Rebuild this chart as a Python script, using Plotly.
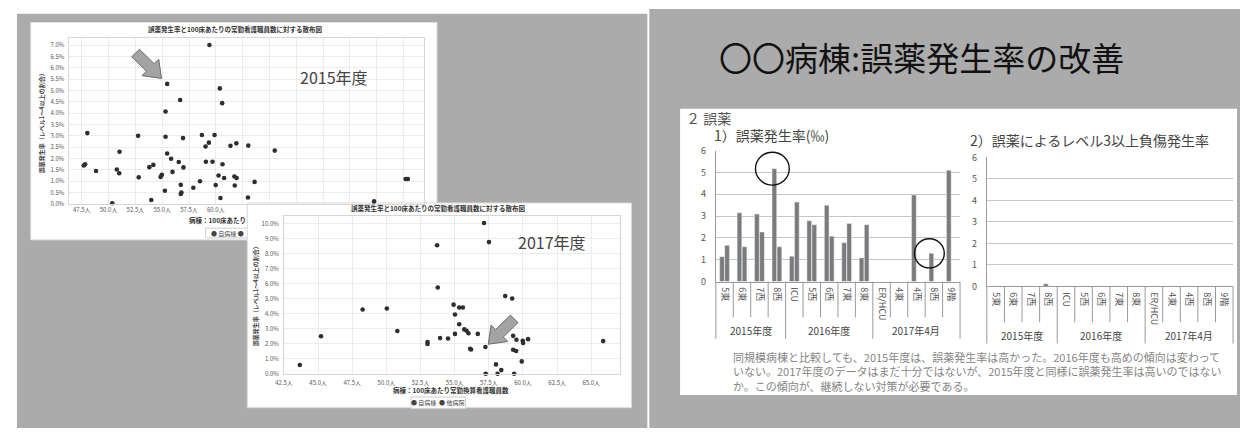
import math
import plotly.graph_objects as go

W, H = 1241, 434
JP = "Noto Sans CJK JP"

# ---------------- scatter data: staff per 100 beds (persons) vs. error rate (%) ----------------
staff_2015 = [59.40, 55.46, 60.37, 56.67, 60.59, 55.31, 48.02, 52.75, 55.31, 56.94,
              58.70, 59.88, 59.35, 59.04, 61.36, 61.91, 63.02, 65.49, 51.02, 55.46,
              55.83, 56.54, 59.07, 59.69, 60.62, 47.81, 47.69, 48.83, 50.77, 50.99,
              53.80, 54.17, 56.98, 55.96, 54.97, 54.85, 52.81, 60.25, 60.77, 61.73,
              61.94, 58.52, 63.61, 56.73, 59.99, 61.76, 57.90, 55.25, 56.79, 56.73,
              60.43, 62.99, 53.98, 50.34, 77.69, 77.90, 74.75]
error_2015 = [7.00, 5.29, 5.09, 4.58, 4.44, 4.07, 3.12, 3.00, 2.96, 2.90,
              3.04, 3.04, 2.70, 2.53, 2.56, 2.67, 2.57, 2.35, 2.30, 2.22,
              1.99, 1.85, 1.86, 1.86, 1.75, 1.75, 1.69, 1.45, 1.52, 1.35,
              1.62, 1.72, 1.61, 1.41, 1.28, 1.19, 1.17, 1.25, 1.14, 1.21,
              1.14, 1.00, 0.97, 0.84, 0.83, 0.81, 0.71, 0.58, 0.50, 0.44,
              0.26, 0.28, 0.17, 0.03, 1.10, 1.10, 0.11]

staff_2017 = [57.15, 57.51, 53.71, 53.76, 58.70, 59.21, 48.26, 50.03, 54.92, 55.33,
              55.60, 55.02, 55.33, 55.70, 55.87, 56.01, 56.69, 55.02, 50.80, 45.21,
              53.93, 54.51, 53.01, 53.01, 57.25, 56.13, 56.20, 59.28, 59.52, 59.98,
              60.01, 60.37, 65.87, 59.28, 59.50, 59.91, 58.02, 58.41, 58.14, 57.27,
              59.35, 43.66]
error_2017 = [10.04, 8.77, 8.56, 5.74, 5.18, 5.01, 4.28, 4.34, 4.60, 4.41,
              4.41, 3.94, 3.29, 2.95, 2.86, 2.69, 2.65, 2.65, 2.84, 2.49,
              2.37, 2.34, 2.11, 1.98, 1.78, 1.66, 1.61, 2.52, 2.26, 2.19,
              2.04, 2.30, 2.17, 1.59, 1.51, 0.82, 0.62, 0.24, 0.00, 0.00,
              0.00, 0.58]

own_2015 = 1   # index of the highlighted ward in each year
own_2017 = 24

ticks_2015 = [47.5, 50.0, 52.5, 55.0, 57.5, 60.0]
ticks_2017 = [42.5, 45.0, 47.5, 50.0, 52.5, 55.0, 57.5, 60.0, 62.5, 65.0]
pct_2015 = [i * 0.5 for i in range(15)]
pct_2017 = list(range(11))

# ---------------- bar data: medication error rate by ward (‰) ----------------
periods = ["2015年度", "2016年度", "2017年4月"]
period_sizes = [4, 5, 5]
wards = ["5東", "6東", "7西", "8西",
         "ICU", "5西", "6西", "7東", "8東",
         "ER/HCU", "4東", "4西", "8西", "9階"]
rate_first = [1.14, 3.15, 3.09, 5.17, 1.16, 2.78, 3.49, 1.78, 1.08,
              None, None, 3.97, 1.29, 5.10]
rate_second = [1.66, 1.59, 2.27, 1.59, 3.64, 2.60, 2.08, 2.66, 2.60,
               None, None, None, None, None]
injury_first = [None, None, None, 0.12, None, None, None, None, None,
                None, None, None, None, None]
injury_second = [None] * 14
circled = [3, 12]   # bars of rate_first ringed in the chart

GREY_BG = "#ababab"
BAR = "#7b7b7b"

# pixel frames of the four plotting areas: (left, top, right, bottom)
F1 = (60, 32, 418, 203)
F2 = (277, 215, 615, 378)
F3 = (712, 148, 958, 283)
F4 = (985, 155, 1233, 288)
R1 = ([46.27, 79.4], [0, 7.31])
R2 = ([42.5, 67.07], [0, 10.54])
BAR_GAP, GROUP_GAP = 0.42, 0.08


def dom_x(f):
    return [f[0] / W, f[2] / W]


def dom_y(f):
    return [1 - f[3] / H, 1 - f[1] / H]


def to_px(frame, rng, x, y):
    (xa, xb), (ya, yb) = rng
    px = frame[0] + (x - xa) / (xb - xa) * (frame[2] - frame[0])
    py = frame[3] - (y - ya) / (yb - ya) * (frame[3] - frame[1])
    return px, py


def rect(x0, y0, x1, y1, fill, line=None, lw=0, layer="below"):
    return dict(type="rect", xref="paper", yref="paper",
                x0=x0 / W, x1=x1 / W, y0=1 - y1 / H, y1=1 - y0 / H,
                fillcolor=fill, line=dict(color=line or fill, width=lw),
                layer=layer)


def vline(x, y0, y1, color="#9a9a9a"):
    return dict(type="line", xref="paper", yref="paper",
                x0=x / W, x1=x / W, y0=1 - y0 / H, y1=1 - y1 / H,
                line=dict(color=color, width=1), layer="above")


def block_arrow(tx, ty, ux, uy, standoff, length=37, head_len=16, head_w=12, shaft_w=5.5):
    """Filled block arrow whose tip sits `standoff` px before (tx, ty), pointing along (ux, uy)."""
    n = math.hypot(ux, uy)
    ux, uy = ux / n, uy / n
    nx, ny = -uy, ux
    tipx, tipy = tx - ux * standoff, ty - uy * standoff
    bx, by = tipx - ux * head_len, tipy - uy * head_len
    ex, ey = tipx - ux * length, tipy - uy * length
    pts = [(tipx, tipy),
           (bx + nx * head_w, by + ny * head_w),
           (bx + nx * shaft_w, by + ny * shaft_w),
           (ex + nx * shaft_w, ey + ny * shaft_w),
           (ex - nx * shaft_w, ey - ny * shaft_w),
           (bx - nx * shaft_w, by - ny * shaft_w),
           (bx - nx * head_w, by - ny * head_w)]
    path = "M " + " L ".join(f"{px / W:.5f},{1 - py / H:.5f}" for px, py in pts) + " Z"
    return dict(type="path", xref="paper", yref="paper", path=path,
                fillcolor="#a3a3a3", line=dict(color="#6d6d6d", width=1), layer="above")


def note(text, x, y, size, color="#333", xanchor="center", yanchor="middle",
         angle=0, bold=False, **kw):
    t = f"<b>{text}</b>" if bold else text
    return dict(text=t, x=x / W, y=1 - y / H, xref="paper", yref="paper",
                xanchor=xanchor, yanchor=yanchor, showarrow=False,
                textangle=angle, font=dict(family=JP, size=size, color=color), **kw)


fig = go.Figure()

# scatter panels
fig.add_trace(go.Scatter(x=staff_2015, y=error_2015, mode="markers",
                         marker=dict(size=4.6, color="#2e2e2e"), cliponaxis=False,
                         xaxis="x", yaxis="y", showlegend=False))
fig.add_trace(go.Scatter(x=staff_2017, y=error_2017, mode="markers",
                         marker=dict(size=4.6, color="#2e2e2e"), cliponaxis=False,
                         xaxis="x2", yaxis="y2", showlegend=False))

# bar panels (categories placed by index on a linear axis)
idx = list(range(len(wards)))
for vals, ax, grp in [(rate_first, "3", "a"), (rate_second, "3", "b"),
                      (injury_first, "4", "a"), (injury_second, "4", "b")]:
    fig.add_trace(go.Bar(x=idx, y=vals, marker_color=BAR, offsetgroup=grp,
                         xaxis="x" + ax, yaxis="y" + ax, showlegend=False))

small = dict(family=JP, size=6, color="#555")
grid_light = "#ececec"

axes = dict(
    xaxis=dict(domain=dom_x(F1), range=R1[0], anchor="y",
               tickvals=ticks_2015, ticktext=[f"{v:.1f}人" for v in ticks_2015],
               tickfont=small, showgrid=True, gridcolor=grid_light,
               minor=dict(tick0=47.5, dtick=2.5, showgrid=True, gridcolor=grid_light),
               showline=True, mirror=True, linecolor="#d6d6d6", zeroline=False,
               ticks=""),
    yaxis=dict(domain=dom_y(F1), range=R1[1], anchor="x",
               tickvals=pct_2015, ticktext=[f"{v:.1f}%" for v in pct_2015],
               tickfont=small, showgrid=True, gridcolor=grid_light,
               showline=True, mirror=True, linecolor="#d6d6d6", zeroline=False,
               ticks="", ticklabelstandoff=2),
    xaxis2=dict(domain=dom_x(F2), range=R2[0], anchor="y2",
                tickvals=ticks_2017, ticktext=[f"{v:.1f}人" for v in ticks_2017],
                tickfont=small, showgrid=True, gridcolor=grid_light,
                showline=True, mirror=True, linecolor="#d6d6d6", zeroline=False,
                ticks="", ticklabelstandoff=3),
    yaxis2=dict(domain=dom_y(F2), range=R2[1], anchor="x2",
                tickvals=pct_2017, ticktext=[f"{v:.1f}%" for v in pct_2017],
                tickfont=small, showgrid=True, gridcolor=grid_light,
                showline=True, mirror=True, linecolor="#d6d6d6", zeroline=False,
                ticks="", ticklabelstandoff=3),
)

bar_x = dict(range=[-0.5, len(wards) - 0.5], tickvals=idx, ticktext=wards,
             tickangle=90, tickfont=dict(family=JP, size=9, color="#555"),
             showline=True, linecolor="#9a9a9a", ticks="", showgrid=False,
             zeroline=False, ticklabelstandoff=3)
bar_y = dict(range=[0, 6], dtick=1, showgrid=True, gridcolor="#c4c4c4",
             showline=True, linecolor="#9a9a9a", ticks="", zeroline=False,
             tickfont=dict(family=JP, size=9, color="#555"), ticklabelstandoff=7)
axes["xaxis3"] = dict(bar_x, domain=dom_x(F3), anchor="y3")
axes["yaxis3"] = dict(bar_y, domain=dom_y(F3), anchor="x3")
axes["xaxis4"] = dict(bar_x, domain=dom_x(F4), anchor="y4")
axes["yaxis4"] = dict(bar_y, domain=dom_y(F4), anchor="x4")

# ---------------- background panels and cards ----------------
shapes = [
    rect(8, 7, 643, 434, GREY_BG),
    rect(645, 2, 1240, 434, GREY_BG),
    rect(22, 16, 431, 240, "white", "#e4e4e4", 1),
    rect(198, 228, 241, 238, "white", "#cfcfcf", 1),
    rect(240, 202, 627, 413, "white", "#d8d8d8", 1),
    rect(405, 402, 460, 414, "white", "#cfcfcf", 1),
    rect(676, 105, 1237, 400, "white"),
]

annotations = []

# category separators and period labels under both bar charts
for frame, label_y in [(F3, 334), (F4, 339)]:
    cw = (frame[2] - frame[0]) / len(wards)
    bounds = [0]
    for s in period_sizes:
        bounds.append(bounds[-1] + s)
    for i in range(len(wards) + 1):
        long_tick = i in bounds
        shapes.append(vline(frame[0] + i * cw, frame[3],
                            frame[3] + (59 if long_tick else 37)))
    for p, a, b in zip(periods, bounds[:-1], bounds[1:]):
        annotations.append(note(p, frame[0] + (a + b) / 2 * cw, label_y, 10, "#444"))

# circles ringing selected bars of the error-rate chart
cw3 = (F3[2] - F3[0]) / len(wards)
slot = (1 - BAR_GAP) / 2
for i in circled:
    val = rate_first[i]
    cx = F3[0] + (i + 0.5) * cw3 - slot / 2 * cw3
    cy = F3[3] - val * (F3[3] - F3[1]) / 6
    r = 17 if val > 3 else 15
    shapes.append(dict(type="circle", xref="paper", yref="paper",
                       x0=(cx - r - 2) / W, x1=(cx + r - 2) / W,
                       y0=1 - (cy + r) / H, y1=1 - (cy - r) / H,
                       line=dict(color="#111", width=1.4), layer="above"))

# block arrows pointing at the own ward in each scatter plot
p1 = to_px(F1, R1, staff_2015[own_2015], error_2015[own_2015])
p2 = to_px(F2, R2, staff_2017[own_2017], error_2017[own_2017])
shapes.append(block_arrow(p1[0], p1[1], 1, 1, standoff=8))
shapes.append(block_arrow(p2[0], p2[1], -1, 1, standoff=4))

annotations += [
    # scatter card 1
    note("誤薬発生率と100床あたりの常勤看護職員数に対する散布図", 228, 23, 6.5, "#333", bold=True),
    note("2015年度", 327, 72, 16, "#444"),
    note("誤薬発生率（レベル1～4以上の割合）", 33, 118, 6, "#444", angle=-90, bold=True),
    note("病棟：100床あたり", 241, 220, 6.5, "#333", xanchor="right", bold=True),
    note("● 自病棟 ●", 201, 233, 6, "#444", xanchor="left"),
    # scatter card 2
    note("誤薬発生率と100床あたりの常勤看護職員数に対する散布図", 433, 207, 6.5, "#333", bold=True),
    note("2017年度", 547, 242, 16, "#444"),
    note("誤薬発生率（レベル1～4以上の割合）", 248, 297, 6, "#444", angle=-90, bold=True),
    note("病棟：100床あたり常勤換算看護職員数", 445, 395, 6.5, "#333", bold=True),
    note("● 自病棟  ● 他病院", 432, 408, 6, "#444"),
    # right panel
    note("〇〇病棟:誤薬発生率の改善", 919, 52, 33, "#111"),
    note("２ 誤薬", 680, 114, 14, "#555", xanchor="left"),
    note("1）誤薬発生率(‰)", 708, 132, 14, "#444", xanchor="left"),
    note("2）誤薬によるレベル3以上負傷発生率", 966, 137, 14, "#444", xanchor="left"),
    note("同規模病棟と比較しても、2015年度は、誤薬発生率は高かった。2016年度も高めの傾向は変わって<br>"
         "いない。2017年度のデータはまだ十分ではないが、2015年度と同様に誤薬発生率は高いのではない<br>"
         "か。この傾向が、継続しない対策が必要である。",
         727, 376, 11, "#858585", xanchor="left", align="left"),
]

fig.update_layout(
    width=W, height=H, autosize=False,
    margin=dict(l=0, r=0, t=0, b=0),
    paper_bgcolor="white", plot_bgcolor="rgba(0,0,0,0)",
    barmode="group", bargap=BAR_GAP, bargroupgap=GROUP_GAP,
    shapes=shapes, annotations=annotations,
    font=dict(family=JP),
    **axes,
)

fig.write_html("out.html")
